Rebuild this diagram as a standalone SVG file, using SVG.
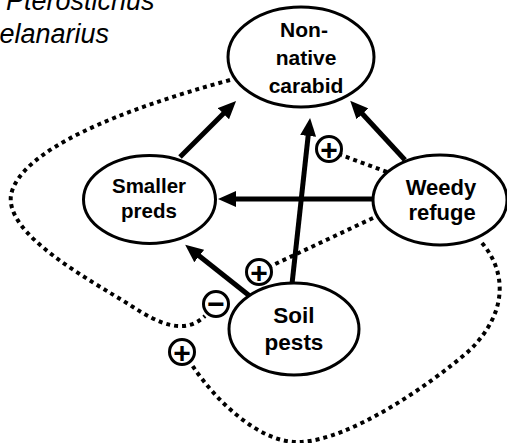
<svg xmlns="http://www.w3.org/2000/svg" width="507" height="443" viewBox="0 0 507 443">
<style>
.node ellipse{fill:#fff;stroke:#000;stroke-width:3}
.node text{font-family:"Liberation Sans",Arial,sans-serif;font-weight:bold;text-anchor:middle;fill:#000}
.arrow{fill:none;stroke:#000;stroke-width:5}
.dot{fill:none;stroke:#000;stroke-width:4;stroke-dasharray:4 4}
.sign circle{fill:#fff;stroke:#000;stroke-width:3}
.sign text{font-family:"Liberation Sans",Arial,sans-serif;font-weight:bold;font-size:30px;text-anchor:middle;fill:#000}
.title{font-family:"Liberation Sans",Arial,sans-serif;font-style:italic;font-size:27px;fill:#000}
</style>
<defs>
<marker id="ah" viewBox="0 0 18 16" markerUnits="userSpaceOnUse" markerWidth="18" markerHeight="16" refX="8" refY="8" orient="auto">
<path d="M0,0 L18,8 L0,16 Z" fill="#000"/>
</marker>
</defs>
<rect width="507" height="443" fill="#fff"/>
<g id="title">
<text class="title" x="6" y="10">Pterostichus</text>
<text class="title" x="-23" y="43">melanarius</text>
</g>
<g id="connectors">
<path class="dot" d="M230,80 C120,110 20,150 11,195 C5,235 90,280 130,305 C160,325 185,335 205,316"/>
<path class="dot" d="M482,243 C505,270 510,310 470,350 C430,385 350,440 300,442 C260,444 215,400 192,365"/>
<path class="dot" d="M387,172 L341,155"/>
<path class="dot" d="M373,218 L271,266"/>
<path class="arrow" marker-end="url(#ah)" d="M180,157 L229,108"/>
<path class="arrow" marker-end="url(#ah)" d="M405,160 L357,108"/>
<path class="arrow" marker-end="url(#ah)" d="M292,284 L309,128"/>
<path class="arrow" marker-end="url(#ah)" d="M373,199 L228,199"/>
<path class="arrow" marker-end="url(#ah)" d="M251,297 L193,251"/>
</g>
<g id="signs">
<g class="sign" id="sign-plus-weedy-nn"><circle cx="329" cy="149" r="12.5"/><text x="329" y="159.5">+</text></g>
<g class="sign" id="sign-plus-weedy-sp"><circle cx="259" cy="272" r="12.5"/><text x="259" y="282.5">+</text></g>
<g class="sign" id="sign-minus"><circle cx="216" cy="304" r="12.5"/><text x="216" y="314">−</text></g>
<g class="sign" id="sign-plus-loop"><circle cx="182" cy="352" r="12.5"/><text x="182" y="362.5">+</text></g>
</g>
<g class="node" id="node-nonnative">
<ellipse cx="301" cy="57" rx="73" ry="50"/>
<text x="304" y="37" font-size="21">Non-</text>
<text x="306" y="65" font-size="21">native</text>
<text x="306" y="93" font-size="21">carabid</text>
</g>
<g class="node" id="node-smaller">
<ellipse cx="149.5" cy="199.5" rx="66" ry="44"/>
<text x="149" y="193" font-size="20.5">Smaller</text>
<text x="149" y="218" font-size="20.5">preds</text>
</g>
<g class="node" id="node-weedy">
<ellipse cx="440" cy="200" rx="67" ry="45"/>
<text x="441" y="195" font-size="22">Weedy</text>
<text x="442" y="220" font-size="22">refuge</text>
</g>
<g class="node" id="node-soil">
<ellipse cx="294" cy="329" rx="65" ry="46"/>
<text x="294" y="323" font-size="22.5">Soil</text>
<text x="294" y="350" font-size="22.5">pests</text>
</g>
</svg>
